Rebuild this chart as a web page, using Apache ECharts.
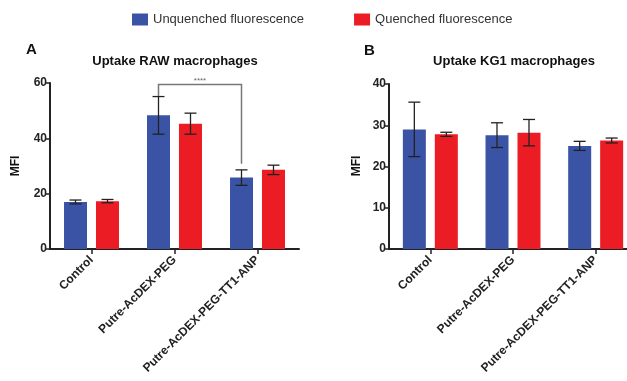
<!DOCTYPE html>
<html><head><meta charset="utf-8">
<script src="https://cdn.jsdelivr.net/npm/echarts@6/dist/echarts.min.js"></script>
<style>html,body{margin:0;padding:0;background:#fff}#c{width:627px;height:381px}</style>
</head><body><div id="c"></div>
<script>
const categories = ['Control', 'Putre-AcDEX-PEG', 'Putre-AcDEX-PEG-TT1-ANP'];
const seriesNames = ['Unquenched fluorescence', 'Quenched fluorescence'];
// Panel A: RAW macrophages
const rawUnquenched = [17.0, 48.3, 25.8];
const rawUnquenchedErr = [0.7, 6.8, 2.8];
const rawQuenched = [17.3, 45.3, 28.6];
const rawQuenchedErr = [0.6, 3.8, 1.7];
// Panel B: KG1 macrophages
const kgUnquenched = [29.0, 27.6, 25.0];
const kgUnquenchedErr = [6.6, 3.0, 1.1];
const kgQuenched = [27.8, 28.2, 26.3];
const kgQuenchedErr = [0.5, 3.2, 0.6];
// Y axis ticks
const rawTicks = [0, 20, 40, 60];
const kgTicks = [0, 10, 20, 30, 40];
// Significance bracket (panel A): [fromCategory, toCategory, top, leftBottom, rightBottom]
const sigBracket = [[1, 2, 59.5, 55.3, 30.8]];
const sigLabel = '****';

const FONT = '"Liberation Sans", Arial, sans-serif';
const BLUE = '#3a53a4';
const RED = '#ec1c24';
const DARK = '#222';
const OFF = 16; // bar centre offset in px

function errData(vals, errs) { return vals.map((v, i) => [i, v, errs[i]]); }

function errRender(off) {
  return function (params, api) {
    const x = api.value(0), v = api.value(1), e = api.value(2);
    const hi = api.coord([x, v + e]);
    const lo = api.coord([x, v - e]);
    const cx = hi[0] + off;
    const cap = 6;
    const st = { stroke: DARK, lineWidth: 1.3 };
    return {
      type: 'group',
      children: [
        { type: 'line', shape: { x1: cx, y1: hi[1], x2: cx, y2: lo[1] }, style: st },
        { type: 'line', shape: { x1: cx - cap, y1: hi[1], x2: cx + cap, y2: hi[1] }, style: st },
        { type: 'line', shape: { x1: cx - cap, y1: lo[1], x2: cx + cap, y2: lo[1] }, style: st }
      ]
    };
  };
}

function yAxis(idx, max, interval) {
  return {
    type: 'value', gridIndex: idx, min: 0, max: max, interval: interval,
    splitLine: { show: false },
    axisLine: { show: true, lineStyle: { color: DARK, width: 2 } },
    axisTick: { show: true, length: 5, lineStyle: { color: DARK, width: 1.5 } },
    axisLabel: { color: DARK, fontWeight: 'bold', fontSize: 12, fontFamily: FONT, margin: 3 }
  };
}
function xAxis(idx) {
  return {
    type: 'category', gridIndex: idx, data: categories,
    axisLine: { show: true, lineStyle: { color: DARK, width: 2 } },
    axisTick: { show: true, alignWithLabel: true, length: 5, lineStyle: { color: DARK, width: 1.5 } },
    axisLabel: { interval: 0, rotate: 45, color: DARK, fontWeight: 'bold', fontSize: 12, fontFamily: FONT, margin: 9 }
  };
}
function bar(name, data, idx, color) {
  return {
    name: name, type: 'bar', xAxisIndex: idx, yAxisIndex: idx, data: data,
    barWidth: 23, barGap: '39%', itemStyle: { color: color }, z: 2
  };
}
function err(data, errs, idx, off) {
  return {
    type: 'custom', xAxisIndex: idx, yAxisIndex: idx, data: errData(data, errs),
    renderItem: errRender(off), z: 5, silent: true
  };
}

const option = {
  animation: false,
  backgroundColor: '#fff',
  textStyle: { fontFamily: FONT },
  legend: {
    data: seriesNames, left: 127, top: 8, itemWidth: 16, itemHeight: 12, itemGap: 50,
    icon: 'rect',
    textStyle: { fontSize: 13, color: '#333', fontFamily: FONT }
  },
  grid: [
    { left: 50, top: 83, width: 249, height: 166, outerBoundsMode: 'none', containLabel: false },
    { left: 389, top: 84, width: 248, height: 165, outerBoundsMode: 'none', containLabel: false }
  ],
  xAxis: [xAxis(0), xAxis(1)],
  yAxis: [yAxis(0, rawTicks[rawTicks.length - 1], rawTicks[1] - rawTicks[0]),
          yAxis(1, kgTicks[kgTicks.length - 1], kgTicks[1] - kgTicks[0])],
  graphic: [
    { type: 'text', left: 26, top: 42, style: { text: 'A', font: 'bold 15px ' + FONT, fill: '#111' } },
    { type: 'text', left: 364, top: 43, style: { text: 'B', font: 'bold 15px ' + FONT, fill: '#111' } },
    { type: 'text', x: 175, y: 61, style: { text: 'Uptake RAW macrophages', font: 'bold 13px ' + FONT, fill: '#111', align: 'center', verticalAlign: 'middle' } },
    { type: 'text', x: 514, y: 61, style: { text: 'Uptake KG1 macrophages', font: 'bold 13px ' + FONT, fill: '#111', align: 'center', verticalAlign: 'middle' } },
    { type: 'text', x: 16, y: 166, rotation: Math.PI / 2, style: { text: 'MFI', font: 'bold 12px ' + FONT, fill: '#111', align: 'center', verticalAlign: 'middle' } },
    { type: 'text', x: 357, y: 166, rotation: Math.PI / 2, style: { text: 'MFI', font: 'bold 12px ' + FONT, fill: '#111', align: 'center', verticalAlign: 'middle' } }
  ],
  series: [
    bar(seriesNames[0], rawUnquenched, 0, BLUE),
    bar(seriesNames[1], rawQuenched, 0, RED),
    bar(seriesNames[0], kgUnquenched, 1, BLUE),
    bar(seriesNames[1], kgQuenched, 1, RED),
    err(rawUnquenched, rawUnquenchedErr, 0, -OFF),
    err(rawQuenched, rawQuenchedErr, 0, OFF),
    err(kgUnquenched, kgUnquenchedErr, 1, -OFF),
    err(kgQuenched, kgQuenchedErr, 1, OFF),
    {
      type: 'custom', xAxisIndex: 0, yAxisIndex: 0, data: sigBracket, z: 6, silent: true,
      renderItem: function (params, api) {
        const a = api.value(0), b = api.value(1), top = api.value(2), lb = api.value(3), rb = api.value(4);
        const pTopL = api.coord([a, top]), pTopR = api.coord([b, top]);
        const pLB = api.coord([a, lb]), pRB = api.coord([b, rb]);
        const xl = pTopL[0] - OFF, xr = pTopR[0] - OFF;
        return {
          type: 'group',
          children: [
            { type: 'polyline', shape: { points: [[xl, pLB[1]], [xl, pTopL[1]], [xr, pTopR[1]], [xr, pRB[1]]] },
              style: { stroke: '#777', lineWidth: 1.5, fill: null } },
            { type: 'text', style: { text: sigLabel, x: (xl + xr) / 2, y: pTopL[1], align: 'center', verticalAlign: 'bottom', font: '8px ' + FONT, fill: '#666' } }
          ]
        };
      }
    }
  ]
};
const chart = echarts.init(document.getElementById('c'), null, { renderer: 'canvas' });
chart.setOption(option);
</script></body></html>
